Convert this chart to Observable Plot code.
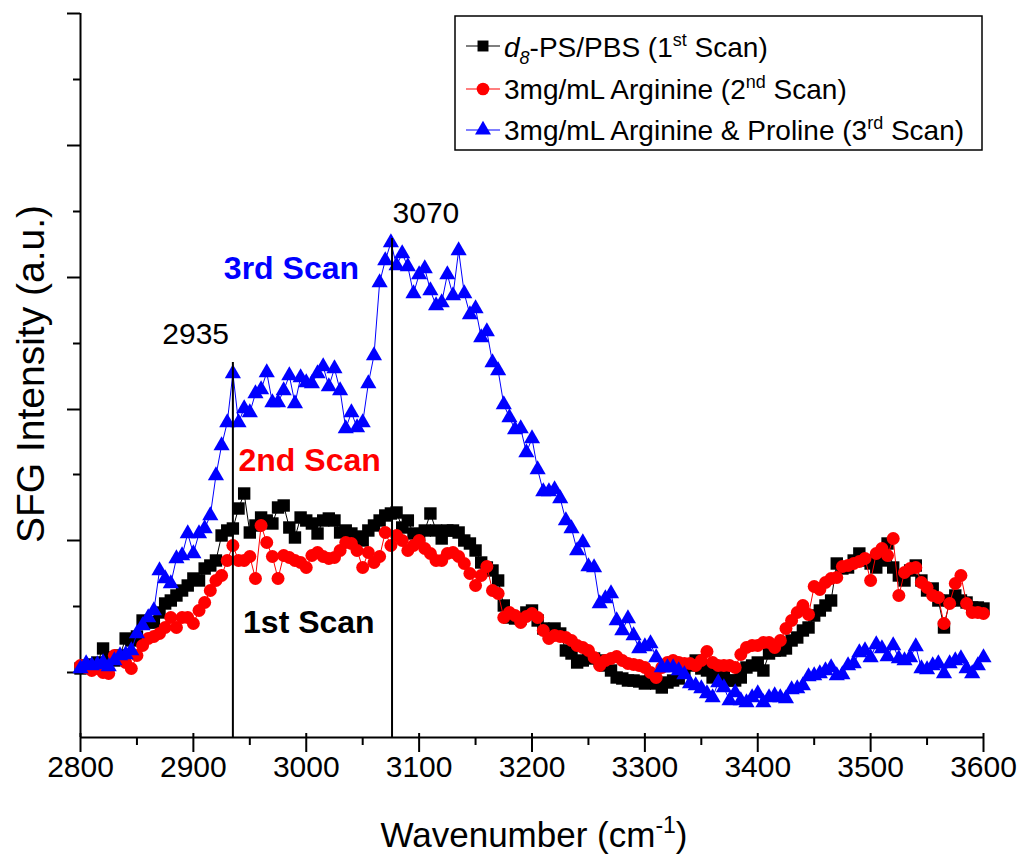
<!DOCTYPE html>
<html>
<head>
<meta charset="utf-8">
<script src="https://cdn.jsdelivr.net/npm/d3@7"></script>
<script src="https://cdn.jsdelivr.net/npm/@observablehq/plot@0.6"></script>
<style>
  html, body { margin: 0; padding: 0; background: #fff; }
  #chart { width: 1020px; height: 856px; }
</style>
</head>
<body>
<div id="chart"></div>
<script>
// Wavenumber grid (cm^-1)
const wavenumber = [2800,2805,2810,2815,2820,2825,2830,2835,2840,2845,
2850,2855,2860,2865,2870,2875,2880,2885,2890,2895,
2900,2905,2910,2915,2920,2925,2930,2935,2940,2945,
2950,2955,2960,2965,2970,2975,2980,2985,2990,2995,
3000,3005,3010,3015,3020,3025,3030,3035,3040,3045,
3050,3055,3060,3065,3070,3075,3080,3085,3090,3095,
3100,3105,3110,3115,3120,3125,3130,3135,3140,3145,
3150,3155,3160,3165,3170,3175,3180,3185,3190,3195,
3200,3205,3210,3215,3220,3225,3230,3235,3240,3245,
3250,3255,3260,3265,3270,3275,3280,3285,3290,3295,
3300,3305,3310,3315,3320,3325,3330,3335,3340,3345,
3350,3355,3360,3365,3370,3375,3380,3385,3390,3395,
3400,3405,3410,3415,3420,3425,3430,3435,3440,3445,
3450,3455,3460,3465,3470,3475,3480,3485,3490,3495,
3500,3505,3510,3515,3520,3525,3530,3535,3540,3545,
3550,3555,3560,3565,3570,3575,3580,3585,3590,3595,
3600];

// SFG intensity (a.u.), d8-PS/PBS (1st scan)
const scan1 = [4,7,8,10,24,15,12,17,34,32,
36,52,50,50,60,69,72,77,82,87,
94,92,104,107,112,137,142,144,164,179,
140,147,155,152,149,165,167,145,135,155,
152,149,139,152,154,152,140,142,139,136,
132,142,147,152,157,159,160,145,152,139,
135,142,159,142,134,142,142,140,132,129,
122,110,105,102,92,67,55,54,54,60,
62,52,44,39,44,39,22,19,10,12,
15,14,12,7,2,-5,-6,-8,-8,-9,
-11,-8,-11,-15,-10,-8,-6,0,7,12,
4,2,-5,0,-3,-8,-8,-5,5,7,
10,2,19,22,22,24,32,35,42,45,
57,62,67,72,109,104,105,112,119,112,
109,105,112,129,105,97,92,102,107,92,
82,84,72,45,72,77,72,70,65,65,
64];

// 3mg/mL Arginine (2nd scan)
const scan2 = [7,5,2,4,0,-1,17,15,10,4,
17,27,34,36,39,45,55,45,55,55,
49,62,70,82,92,97,112,127,112,112,
116,94,147,130,116,94,117,115,112,110,
105,117,120,116,114,115,122,130,129,122,
105,120,110,116,140,127,137,132,122,127,
132,124,119,112,112,119,120,116,109,99,
87,97,106,82,79,55,60,57,50,56,
59,55,42,34,37,36,35,32,27,25,
22,15,7,12,14,16,12,9,8,7,
5,0,-5,5,10,12,10,9,9,7,
12,21,10,7,7,7,5,18,25,27,
27,30,30,25,32,44,52,60,67,58,
86,83,90,94,95,106,107,109,111,114,
92,119,124,117,134,77,100,104,105,90,
85,77,75,49,69,89,97,69,60,60,
59];

// 3mg/mL Arginine & Proline (3rd scan)
const scan3 = [4,9,7,8,10,6,12,17,18,22,
39,47,55,62,102,94,89,114,117,139,
119,139,144,157,197,227,250,299,250,264,
260,279,283,300,270,270,282,297,269,295,
290,289,299,306,286,304,282,244,260,245,
250,289,317,390,412,430,407,419,406,379,
398,404,382,367,370,398,377,422,379,358,
364,335,341,310,302,268,255,243,244,220,
234,203,181,181,183,174,152,144,122,130,
106,105,69,74,79,52,42,54,37,24,
26,29,15,5,5,5,2,-2,-11,-13,
-16,-21,-25,-10,-15,-28,-20,-28,-30,-25,
-21,-30,-25,-23,-25,-26,-17,-16,-13,-4,
-3,-1,2,5,-3,-2,7,9,20,22,
15,28,24,16,27,14,12,15,26,4,
3,7,9,-1,9,12,14,4,-1,7,
15];

const xMajorTicks = [2800,2900,3000,3100,3200,3300,3400,3500,3600];
const xMinorTicks = [2850,2950,3050,3150,3250,3350,3450,3550];
const yMajorTicks = [0,132,263,395,527,659];
const yMinorTicks = [66,198,329,461,593];
const xDomain = [2800, 3600];
const yDomain = [-65, 659];

// Peak markers
const peakPositions = [2935, 3076];
const peakTops = [310, 434];
const peakLabels = ["2935", "3070"];
const peakLabelX = [2902, 3106];
const peakLabelY = [329, 450];

// Scan labels
const scanLabels = ["3rd Scan", "2nd Scan", "1st Scan"];
const scanLabelX = [2927, 2940, 2944];
const scanLabelY = [394, 202, 40];
const scanLabelColors = ["#0000FF", "#FF0000", "#000000"];

const rows = wavenumber.map((w, i) => ({w, s1: scan1[i], s2: scan2[i], s3: scan3[i]}));
const peaks = peakPositions.map((p, i) => ({x: p, top: peakTops[i]}));
const peakText = peakLabels.map((t, i) => ({t, x: peakLabelX[i], y: peakLabelY[i]}));
const scanText = scanLabels.map((t, i) => ({t, x: scanLabelX[i], y: scanLabelY[i], c: scanLabelColors[i]}));

const FONT = "'Liberation Sans', Arial, Helvetica, sans-serif";

const plot = Plot.plot({
  width: 1020,
  height: 856,
  marginLeft: 80,
  marginRight: 37,
  marginTop: 13,
  marginBottom: 119,
  style: {fontFamily: FONT, background: "white", color: "black"},
  x: {domain: xDomain},
  y: {domain: yDomain},
  marks: [
    Plot.axisX({ticks: xMajorTicks, tickSize: 15, tickPadding: 3, fontSize: 30, strokeWidth: 2, tickFormat: d => String(d), label: null}),
    Plot.axisX({ticks: xMinorTicks, tickSize: 8, strokeWidth: 2, tickFormat: () => "", label: null}),
    Plot.ruleX(xMajorTicks, {y1: -65, y2: -61, strokeWidth: 2}),
    Plot.axisY({ticks: yMajorTicks, tickSize: 13, strokeWidth: 2, tickFormat: () => "", label: null}),
    Plot.axisY({ticks: yMinorTicks, tickSize: 7, strokeWidth: 2, tickFormat: () => "", label: null}),
    Plot.ruleY([-65], {x1: 2800, x2: 3600, strokeWidth: 2}),
    Plot.ruleX([2800], {y1: -65, y2: 659, strokeWidth: 2}),
    // series
    Plot.line(rows, {x: "w", y: "s1", stroke: "#000000", strokeWidth: 1}),
    Plot.dot(rows, {x: "w", y: "s1", symbol: "square", r: 7, fill: "#000000", stroke: "none"}),
    Plot.line(rows, {x: "w", y: "s2", stroke: "#FF0000", strokeWidth: 1}),
    Plot.dot(rows, {x: "w", y: "s2", symbol: "circle", r: 6.5, fill: "#FF0000", stroke: "none"}),
    Plot.line(rows, {x: "w", y: "s3", stroke: "#0000FF", strokeWidth: 1}),
    Plot.dot(rows, {x: "w", y: "s3", symbol: "triangle", r: 6, fill: "#0000FF", stroke: "none"}),
    // peak lines
    Plot.ruleX(peaks, {x: "x", y1: -65, y2: "top", stroke: "#000000", strokeWidth: 2}),
    Plot.text(peakText, {x: "x", y: "y", text: "t", fontSize: 30, textAnchor: "middle", lineAnchor: "bottom", fill: "#000000"}),
    Plot.text(scanText, {x: "x", y: "y", text: "t", fontSize: 32, fontWeight: "bold", textAnchor: "start", lineAnchor: "bottom", fill: "c"})
  ]
});

document.getElementById("chart").appendChild(plot);

const svg = d3.select(plot);

// axis titles
const xt = svg.append("text")
  .attr("x", 534).attr("y", 847)
  .attr("text-anchor", "middle")
  .attr("font-family", FONT).attr("font-size", 35).attr("fill", "black");
xt.append("tspan").text("Wavenumber (cm");
xt.append("tspan").attr("dy", -14).attr("font-size", 23).text("-1");
xt.append("tspan").attr("dy", 14).text(")");

svg.append("text")
  .attr("transform", "translate(44,374) rotate(-90)")
  .attr("text-anchor", "middle")
  .attr("font-family", FONT).attr("font-size", 39).attr("fill", "black")
  .text("SFG Intensity (a.u.)");

// legend
const lg = svg.append("g").attr("font-family", FONT).attr("font-size", 28).attr("text-anchor", "start");
lg.append("rect").attr("x", 455).attr("y", 16).attr("width", 527).attr("height", 134)
  .attr("fill", "white").attr("stroke", "black").attr("stroke-width", 1.5);

const legendItems = [
  {color: "#000000", sym: d3.symbolSquare, size: 120, y: 46},
  {color: "#FF0000", sym: d3.symbolCircle, size: 125, y: 89},
  {color: "#0000FF", sym: d3.symbolTriangle, size: 110, y: 130}
];
legendItems.forEach(it => {
  lg.append("line").attr("x1", 466).attr("x2", 500).attr("y1", it.y).attr("y2", it.y)
    .attr("stroke", it.color).attr("stroke-width", 1.2);
  lg.append("path").attr("d", d3.symbol(it.sym, it.size)())
    .attr("transform", `translate(483,${it.y})`).attr("fill", it.color);
});

const t1 = lg.append("text").attr("x", 504).attr("y", 57).attr("text-anchor", "start");
t1.append("tspan").attr("font-style", "italic").text("d");
t1.append("tspan").attr("font-style", "italic").attr("font-size", 18).attr("dy", 7).text("8");
t1.append("tspan").attr("dy", -7).text("-PS/PBS (1");
t1.append("tspan").attr("font-size", 18).attr("dy", -11).text("st");
t1.append("tspan").attr("dy", 11).text(" Scan)");

const t2 = lg.append("text").attr("x", 504).attr("y", 99).attr("text-anchor", "start");
t2.append("tspan").text("3mg/mL Arginine (2");
t2.append("tspan").attr("font-size", 18).attr("dy", -11).text("nd");
t2.append("tspan").attr("dy", 11).text(" Scan)");

const t3 = lg.append("text").attr("x", 504).attr("y", 140).attr("text-anchor", "start");
t3.append("tspan").text("3mg/mL Arginine & Proline (3");
t3.append("tspan").attr("font-size", 18).attr("dy", -11).text("rd");
t3.append("tspan").attr("dy", 11).text(" Scan)");
</script>
</body>
</html>
